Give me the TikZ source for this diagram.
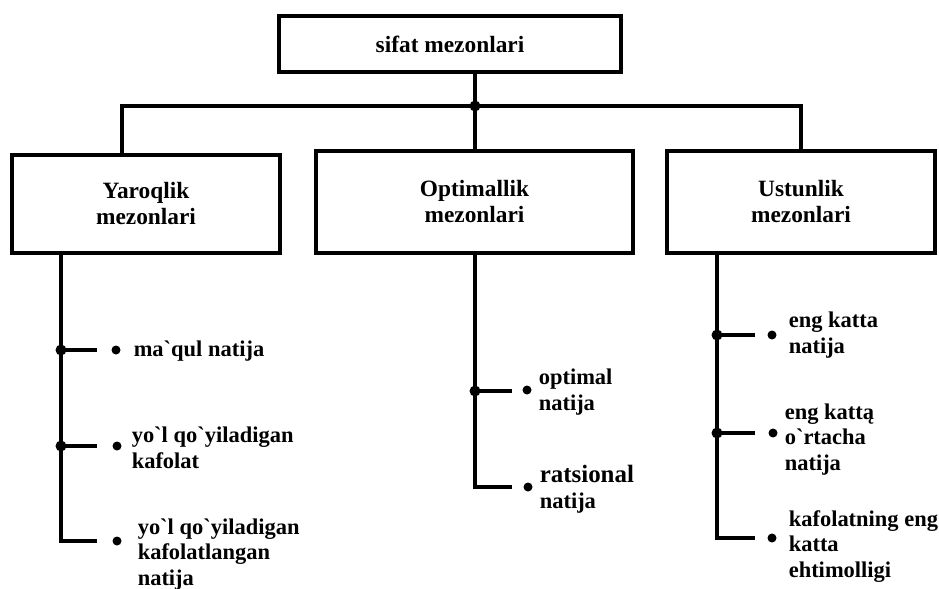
\documentclass[tikz,border=0pt]{standalone}
\usepackage{fontspec}
\setmainfont{Liberation Serif}
\usetikzlibrary{positioning}

\begin{document}
\begin{tikzpicture}[x=0.02cm,y=-0.02cm,line width=2pt,
    main box/.style={draw,line width=2.2pt,align=center,font=\bfseries\fontsize{13.3}{14.8}\selectfont},
    item/.style={anchor=base west,align=left,inner sep=0pt,font=\bfseries\fontsize{12.8}{14.5}\selectfont},
    joint/.style={circle,fill,inner sep=0pt,minimum size=0.22cm},
    bullet/.style={circle,fill,inner sep=0pt,minimum size=0.18cm}]

      \useasboundingbox (0,0) rectangle (939,588);

      \node[main box,minimum width=6.84cm,minimum height=1.12cm] (top) at (450,44) {sifat mezonlari};
      \node[main box,minimum width=5.36cm,minimum height=1.96cm] (yaroq) at (146,204) {Yaroqlik\\mezonlari};
      \node[main box,minimum width=6.34cm,minimum height=2.04cm] (optim) at (474.5,202) {Optimallik\\mezonlari};
      \node[main box,minimum width=5.36cm,minimum height=2.04cm] (ustun) at (801,202) {Ustunlik\\mezonlari};

      \coordinate (j) at (475,106);
      \coordinate (jl) at (122,106);
      \draw (top.south -| j) -- (j) -- (j |- optim.north);
      \draw (j) -- (jl) -- (jl |- yaroq.north);
      \draw (j) -| (ustun.north);
      \node[joint] (jd) at (j) {};

      % Yaroqlik
      \coordinate (la) at (61,350);
      \coordinate (lb) at (61,446);
      \coordinate (lc) at (61,541);
      \coordinate (sl1) at (97,350);
      \coordinate (sl2) at (97,446);
      \coordinate (sl3) at (97,541);
      \node[bullet] (bl1) at (116,350) {};
      \node[bullet] (bl2) at (117,446) {};
      \node[bullet] (bl3) at (117,541) {};
      \node[item] (tl1) at (132,356) {ma\textasciigrave qul natija};
      \node[item] (tl2) at (130,468) {yo\textasciigrave l qo\textasciigrave yiladigan\\kafolat};
      \node[item] (tl3) at (136,585) {yo\textasciigrave l qo\textasciigrave yiladigan\\kafolatlangan\\natija};
      \draw (la |- yaroq.south) -- (lc) -- (sl3);
      \draw (la) -- (sl1);
      \draw (lb) -- (sl2);
      \node[joint] (jl1) at (la) {};
      \node[joint] (jl2) at (lb) {};

      % Optimallik
      \coordinate (ma) at (475,391);
      \coordinate (mb) at (475,487);
      \coordinate (sm1) at (512,391);
      \coordinate (sm2) at (512,487);
      \node[bullet] (bm1) at (527,390) {};
      \node[bullet] (bm2) at (528,487) {};
      \node[item] (tm1) at (537,410) {optimal\\natija};
      \node[item] (tm2) at (538,508) {{\fontsize{14.2}{14.5}\selectfont ratsional}\\natija};
      \draw (ma |- optim.south) -- (mb) -- (sm2);
      \draw (ma) -- (sm1);
      \node[joint] (jm1) at (ma) {};

      % Ustunlik
      \coordinate (ra) at (717,335);
      \coordinate (rb) at (717,433);
      \coordinate (rc) at (717,538);
      \coordinate (sr1) at (755,335);
      \coordinate (sr2) at (755,433);
      \coordinate (sr3) at (755,538);
      \node[bullet] (br1) at (772,335) {};
      \node[bullet] (br2) at (773,433) {};
      \node[bullet] (br3) at (772,538) {};
      \node[item] (tr1) at (787,353) {eng katta\\natija};
      \node[item] (tr2) at (783,470) {eng kattą\\o\textasciigrave rtacha\\natija};
      \node[item] (tr3) at (787,577) {kafolatning eng\\katta\\ehtimolligi};
      \draw (ra |- ustun.south) -- (rc) -- (sr3);
      \draw (ra) -- (sr1);
      \draw (rb) -- (sr2);
      \node[joint] (jr1) at (ra) {};
      \node[joint] (jr2) at (rb) {};
    \end{tikzpicture}
\end{document}
